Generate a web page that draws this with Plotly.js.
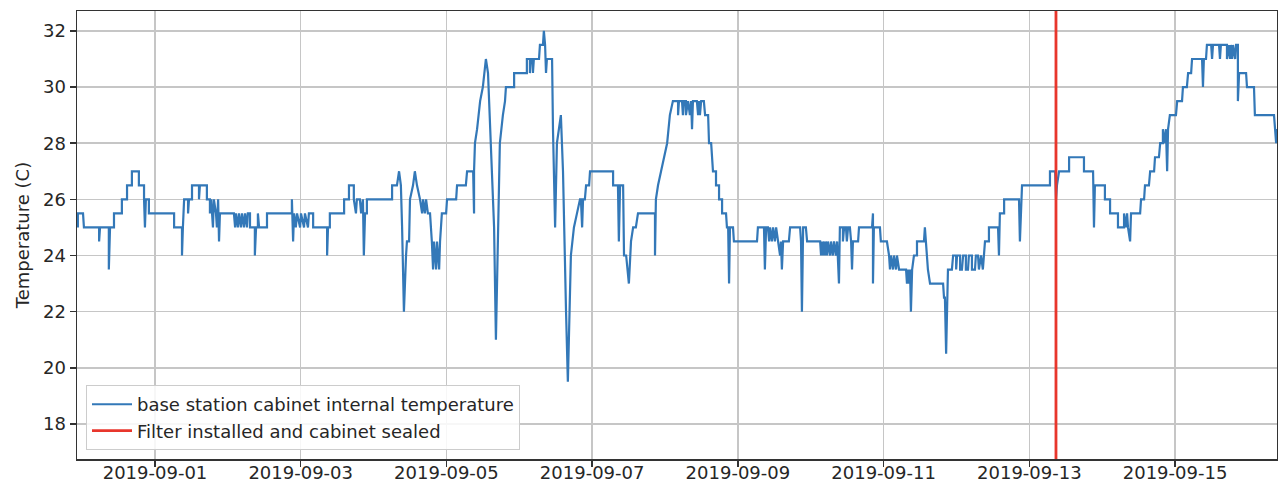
<!DOCTYPE html>
<html>
<head>
<meta charset="utf-8">
<script src="https://cdn.plot.ly/plotly-3.0.1.min.js"></script>
<style>
  html, body { margin: 0; padding: 0; background: #fff; }
  #chart { width: 1278px; height: 489px; }
</style>
</head>
<body>
<div id="chart"></div>
<script>
// ---- Data ----
// Time of each reading, in hours after 2019-09-01 00:00
const hours = [
  -25.4,-25.4,-23.7,-23.4,-18.4,-18.4,-18.1,-15.2,-15.2,-14.8,
  -13.5,-13.5,-10.9,-10.9,-9.2,-9.2,-7.6,-7.6,-5.3,-5.3,
  -3.6,-3.6,-3.3,-3.0,-2.0,-2.0,6.3,6.3,8.9,8.9,
  9.2,9.6,10.9,10.9,11.2,12.2,12.2,14.5,14.5,14.8,
  17.1,17.1,18.1,18.1,18.5,19.1,19.4,20.1,20.4,20.8,
  21.1,21.4,26.0,26.4,26.7,27.3,27.7,28.3,28.7,29.3,
  29.7,30.3,30.6,31.3,31.3,32.9,32.9,33.3,33.9,33.9,
  34.3,36.9,36.9,45.1,45.1,45.5,45.8,46.4,46.8,47.8,
  48.1,49.1,49.4,50.4,50.7,52.1,52.1,56.7,56.7,57.0,
  57.6,57.6,62.3,62.3,63.9,63.9,65.5,65.5,66.2,66.5,
  67.5,67.9,68.5,68.8,69.2,69.8,69.8,78.1,78.1,79.7,
  80.4,81.0,81.4,82.0,82.7,83.0,83.7,84.0,85.0,85.6,
  86.3,87.3,88.0,88.3,88.9,89.3,89.9,90.6,91.2,91.6,
  91.9,92.6,92.9,93.6,93.9,94.2,94.5,95.9,96.2,99.2,
  99.5,102.4,102.8,104.8,105.1,105.1,105.4,106.1,107.1,108.0,
  109.0,109.7,110.7,111.7,112.3,112.7,113.3,113.6,114.6,115.3,
  115.6,118.3,118.3,122.5,122.5,123.5,123.5,123.9,124.5,124.5,
  124.8,126.5,126.8,127.8,128.1,128.5,128.8,129.1,130.8,131.1,
  131.8,132.4,133.7,134.4,135.4,136.0,137.0,138.0,139.0,140.0,
  140.3,140.7,141.0,141.6,142.0,143.0,143.3,150.9,150.9,152.5,
  152.8,153.2,154.2,154.5,155.2,156.1,156.8,157.5,158.4,159.1,
  164.7,164.7,165.0,165.7,166.7,167.7,168.7,169.6,170.6,172.3,
  172.3,172.6,173.6,173.9,174.3,174.9,174.9,175.6,176.2,176.6,
  176.9,177.2,178.5,178.9,179.2,179.5,179.9,180.8,181.2,182.2,
  182.5,183.2,183.5,183.8,184.8,184.8,185.8,185.8,186.8,186.8,
  188.1,188.4,188.8,189.1,189.4,190.4,190.7,198.3,198.6,200.6,
  200.9,201.3,201.9,202.3,202.6,203.2,203.6,204.2,204.6,205.2,
  205.9,206.2,206.5,206.9,208.8,209.2,212.5,212.8,213.1,213.5,
  214.4,214.8,219.1,219.4,219.7,220.0,220.4,220.7,221.0,221.4,
  221.7,222.4,222.7,223.3,223.7,224.3,224.7,225.3,225.6,225.6,
  226.6,226.6,227.0,227.6,227.9,228.3,228.9,229.3,229.6,229.9,
  231.6,231.9,236.2,236.5,236.5,236.8,238.8,239.1,241.1,241.8,
  242.1,242.4,243.1,243.4,244.1,244.4,245.1,247.4,247.7,248.0,
  248.4,248.7,249.0,249.4,250.0,251.0,251.0,253.3,253.6,254.0,
  254.6,255.3,259.6,259.9,260.2,260.6,261.2,262.5,262.9,263.9,
  263.9,264.2,265.2,265.2,265.8,266.2,267.1,267.1,267.8,268.1,
  269.1,269.1,270.1,270.4,271.1,271.4,272.1,272.7,273.1,273.4,
  274.7,274.7,277.7,278.0,278.3,279.7,279.7,284.6,284.9,285.3,
  285.6,294.8,294.8,296.5,296.8,297.1,297.8,301.1,301.1,306.0,
  306.0,309.0,309.3,309.6,312.9,312.9,314.6,314.6,317.2,317.2,
  319.2,319.2,319.9,320.2,320.5,321.2,321.5,324.5,324.8,325.8,
  326.1,327.4,327.8,329.1,329.4,330.7,331.1,332.0,332.0,332.7,
  333.0,333.4,333.7,334.3,336.3,336.7,338.3,338.6,339.9,340.3,
  341.3,341.6,344.9,345.2,345.5,346.2,346.5,347.9,348.2,348.5,
  350.5,350.8,351.1,353.1,353.1,353.8,354.1,354.4,354.8,355.1,
  355.8,356.1,356.7,356.7,357.1,359.4,359.7,362.0,362.3,368.6,
  368.9,369.3,369.6,369.9
];
// Cabinet internal temperature (C) at each reading
const tempC = [
  25,25.5,25.5,25,25,24.5,25,25,23.5,25,
  25,25.5,25.5,26,26,26.5,26.5,27,27,26.5,
  26.5,26,25,26,26,25.5,25.5,25,25,24,
  25,26,26,25.5,26,26,26.5,26.5,26,26.5,
  26.5,26,26,25.5,26,25,26,25.5,25,26,
  24.5,25.5,25.5,25,25.5,25,25.5,25,25.5,25,
  25.5,25,25.5,25.5,25,25,24,25,25,25.5,
  25,25,25.5,25.5,26,24.5,25.5,25,25.5,25,
  25.5,25,25.5,25,25.5,25.5,25,25,24,25,
  25,25.5,25.5,26,26,26.5,26.5,26,25.5,26,
  26,25.5,26,24,25.5,25.5,26,26,26.5,26.5,
  27,26.5,25,22,24,24.5,24.5,26,26.5,27,
  26.5,26,25.5,26,25.5,26,25.5,25.5,24.5,23.5,
  24.5,23.5,24.5,23.5,24.5,25,25.5,25.5,26,26,
  26.5,26.5,27,27,25.5,27,28,28.5,29.5,30,
  31,30.5,28,25,21,23,26,28,29,29.5,
  30,30,30.5,30.5,31,31,30.5,31,31,30.5,
  31,31,31.5,31.5,32,31.5,30.5,31,31,28.5,
  25,28,29,27,22,19.5,24,25,25.5,26,
  26,25,26,26,26.5,26.5,27,27,26.5,26.5,
  24.5,26.5,26.5,24,24,23,24.5,25,25,25.5,
  25.5,24,26,26.5,27,27.5,28,29,29.5,29.5,
  29,29.5,29.5,29,29.5,29.5,29,29.5,29,29.5,
  28.5,29.5,29.5,29,29.5,29,29.5,29.5,29,29,
  28,28,27.5,27,27,26.5,26.5,26,26,25.5,
  25.5,25,25,23,25,25,24.5,24.5,25,25,
  23.5,25,25,24.5,25,24.5,25,24.5,25,24.5,
  24,24.5,23.5,24.5,24.5,25,25,24.5,22,25,
  25,24.5,24.5,24,24.5,24,24.5,24,24.5,24,
  24.5,24,24.5,24,24.5,24,24.5,23,24.5,25,
  25,24.5,25,25,24.5,25,25,24.5,23.5,24.5,
  24.5,25,25,25.5,23,25,25,24.5,24.5,24,
  23.5,24,23.5,24,23.5,24,23.5,23.5,23,23.5,
  23,23.5,22,23.5,24,24,24.5,24.5,25,24.5,
  23.5,23,23,22.5,22.5,20.5,23.5,23.5,24,24,
  23.5,24,24,23.5,23.5,24,24,23.5,23.5,24,
  24,23.5,23.5,24,24,23.5,24,23.5,24,24.5,
  24.5,25,25,24,25.5,25.5,26,26,24.5,26,
  26.5,26.5,27,27,26,26.5,27,27,27.5,27.5,
  27,27,25,26.5,26.5,26,26,25.5,25.5,25,
  25,25.5,25,25.5,25,24.5,25.5,25.5,26,26,
  26.5,26.5,27,27,27.5,27.5,28,28,28.5,28,
  28.5,27,28.5,29,29,29.5,29.5,30,30,30.5,
  30.5,31,31,30,31,31,31.5,31.5,31,31.5,
  31.5,31,31.5,31.5,31,31.5,31,31.5,31,31.5,
  31,31.5,31.5,29.5,30.5,30.5,30,30,29,29,
  28.5,28,28.5,28
];
const seriesName = 'base station cabinet internal temperature';
const eventName = 'Filter installed and cabinet sealed';
const eventTime = '2019-09-13 08:47';
const xStart = '2019-08-30 22:19';
const xEnd = '2019-09-16 09:35';
const yTicks = [18, 20, 22, 24, 26, 28, 30, 32];
const yRange = [16.75, 32.71];

// ---- Build ----
const base = Date.UTC(2019, 8, 1, 0, 0, 0);
function stamp(h) {
  return new Date(base + h * 3600000).toISOString().replace('T', ' ').slice(0, 19);
}
const times = hours.map(stamp);

const font = { family: 'DejaVu Sans, sans-serif', size: 18, color: '#262626' };

const traces = [
  {
    x: times, y: tempC, type: 'scatter', mode: 'lines', name: seriesName,
    line: { color: '#3378b8', width: 2.2 }
  },
  {
    x: [eventTime, eventTime], y: yRange, type: 'scatter', mode: 'lines', name: eventName,
    line: { color: '#e8362c', width: 2.8 }
  }
];

const layout = {
  width: 1278, height: 489,
  margin: { l: 77, r: 1, t: 11, b: 30, pad: 0 },
  paper_bgcolor: '#ffffff', plot_bgcolor: '#ffffff',
  font: font,
  showlegend: true,
  legend: {
    x: 0.0075, y: 0.02, xanchor: 'left', yanchor: 'bottom',
    bgcolor: 'rgba(255,255,255,0.85)', bordercolor: '#cccccc', borderwidth: 1,
    font: font, tracegroupgap: 0, itemwidth: 40
  },
  xaxis: {
    type: 'date', range: [xStart, xEnd],
    tick0: '2019-09-01', dtick: 2 * 86400000, tickformat: '%Y-%m-%d',
    showgrid: true, gridcolor: '#c6c6c6', gridwidth: 1.5,
    showline: true, mirror: true, linecolor: '#333333', linewidth: 1.5,
    ticks: 'outside', ticklen: 6, tickwidth: 1.5, tickcolor: '#333333',
    ticklabelstandoff: -9,
    zeroline: false, tickfont: font
  },
  yaxis: {
    range: yRange, tickvals: yTicks,
    showgrid: true, gridcolor: '#c6c6c6', gridwidth: 1.5,
    showline: true, mirror: true, linecolor: '#333333', linewidth: 1.5,
    ticks: 'outside', ticklen: 6, tickwidth: 1.5, tickcolor: '#333333',
    zeroline: false, tickfont: font,
    title: { text: 'Temperature (C)', font: font, standoff: 8 }
  }
};

Plotly.newPlot('chart', traces, layout, { displayModeBar: false, responsive: false, staticPlot: true });
</script>
</body>
</html>
